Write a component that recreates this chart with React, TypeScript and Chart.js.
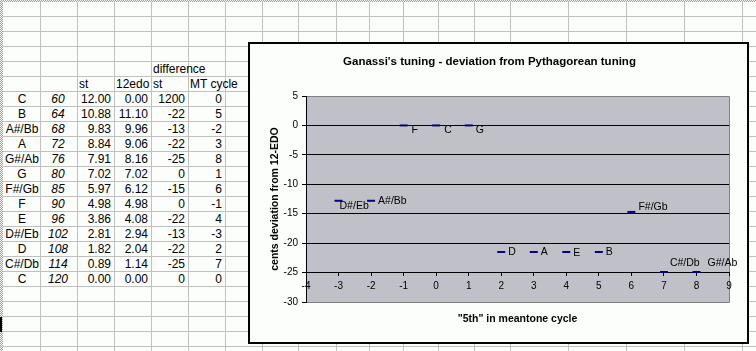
import React, { useEffect, useRef } from "react";
import { Chart, registerables } from "chart.js";

Chart.register(...registerables);

// ---- chart data ----
const noteNames = ["F", "C", "G", "D", "A", "E", "B", "F#/Gb", "C#/Db", "G#/Ab", "D#/Eb", "A#/Bb"];
const fifthsInCycle = [-1, 0, 1, 2, 3, 4, 5, 6, 7, 8, -3, -2];
const centsDeviation = [0, 0, 0, -21.5, -21.5, -21.5, -21.5, -14.7, -24.9, -24.9, -12.8, -12.8];
// label offsets (px) from each marker, right of the marker
const labelDx = [8, 8, 7, 7, 7, 7, 7, 7, 6, 11, 1, 7];
const labelDy = [5, 5, 4.5, 0, 0, 1.5, 0, -4.5, -9, -9, 5.3, 0];

const chartTitle = "Ganassi's tuning - deviation from Pythagorean tuning";
const yTitle = "cents deviation from 12-EDO";
const xTitle = '"5th" in meantone cycle';

// ---- spreadsheet data ----
const sheetNotes = ["C", "B", "A#/Bb", "A", "G#/Ab", "G", "F#/Gb", "F", "E", "D#/Eb", "D", "C#/Db", "C"];
const sheetNum = ["60", "64", "68", "72", "76", "80", "85", "90", "96", "102", "108", "114", "120"];
const sheetSt = ["12.00", "10.88", "9.83", "8.84", "7.91", "7.02", "5.97", "4.98", "3.86", "2.81", "1.82", "0.89", "0.00"];
const sheet12edo = ["0.00", "11.10", "9.96", "9.06", "8.16", "7.02", "6.12", "4.98", "4.08", "2.94", "2.04", "1.14", "0.00"];
const sheetDiff = ["1200", "-22", "-13", "-22", "-25", "0", "-15", "0", "-22", "-13", "-22", "-25", "0"];
const sheetCycle = ["0", "5", "-2", "3", "8", "1", "6", "-1", "4", "-3", "2", "7", "0"];

const colLines = [40, 77, 114, 151, 188, 225, 262, 298, 336, 369, 403, 438, 474, 510, 568, 626, 684, 742];
const FONT = '"Liberation Sans", Arial, sans-serif';

function rowTop(r: number) {
  return 1 + 15 * r;
}

function Cell(props: { x0: number; x1: number; row: number; text: string; align: "left" | "right" | "center"; italic?: boolean }) {
  const { x0, x1, row, text, align, italic } = props;
  const style: React.CSSProperties = {
    position: "absolute",
    left: x0 + 2,
    width: x1 - x0 - 5,
    top: rowTop(row),
    height: 15,
    lineHeight: "16px",
    fontFamily: FONT,
    fontSize: 12,
    fontStyle: italic ? "italic" : "normal",
    textAlign: align,
    whiteSpace: "nowrap",
    color: "#000",
  };
  return <div style={style}>{text}</div>;
}

export default function App() {
  const canvasRef = useRef<HTMLCanvasElement | null>(null);

  useEffect(() => {
    const canvas = canvasRef.current;
    if (!canvas) return;

    const points = fifthsInCycle.map((x, i) => ({ x, y: centsDeviation[i] }));

    const plotBg = {
      id: "plotBg",
      beforeDraw(chart: any) {
        const { ctx, chartArea } = chart;
        const { left, top, right, bottom } = chartArea;
        ctx.save();
        ctx.fillStyle = "#c0c0c8";
        ctx.fillRect(left, top, right - left, bottom - top);
        ctx.strokeStyle = "#808080";
        ctx.lineWidth = 1;
        ctx.beginPath();
        ctx.moveTo(left, top + 0.5);
        ctx.lineTo(right + 0.5, top + 0.5);
        ctx.lineTo(right + 0.5, bottom + 0.5);
        ctx.lineTo(left, bottom + 0.5);
        ctx.stroke();
        ctx.restore();
      },
      afterDraw(chart: any) {
        const { ctx, chartArea } = chart;
        ctx.save();
        ctx.fillStyle = "#000";
        ctx.font = `bold 10.5px ${FONT}`;
        ctx.textAlign = "center";
        ctx.textBaseline = "middle";
        ctx.fillText(xTitle, (chartArea.left + chartArea.right) / 2, chartArea.bottom + 17);
        ctx.restore();
      },
      afterDatasetsDraw(chart: any) {
        const { ctx } = chart;
        const meta = chart.getDatasetMeta(0);
        ctx.save();
        ctx.fillStyle = "#000";
        ctx.font = `10.5px ${FONT}`;
        ctx.textAlign = "left";
        ctx.textBaseline = "middle";
        meta.data.forEach((el: any, i: number) => {
          ctx.fillText(noteNames[i], el.x + labelDx[i], el.y + labelDy[i]);
        });
        ctx.restore();
      },
    };

    const chart = new Chart(canvas, {
      type: "scatter",
      data: {
        datasets: [
          {
            data: points,
            pointStyle: "line",
            pointRadius: 4,
            pointBorderWidth: 2,
            pointBorderColor: "#000080",
            pointBackgroundColor: "#000080",
            showLine: false,
          },
        ],
      },
      options: {
        animation: false,
        responsive: false,
        devicePixelRatio: 1,
        layout: { padding: { left: 0, right: 18, top: 0, bottom: 40 } },
        plugins: {
          legend: { display: false },
          tooltip: { enabled: false },
          title: {
            display: true,
            text: chartTitle,
            color: "#000",
            font: { family: FONT, size: 11.5, weight: "bold" },
            padding: { top: 11.4, bottom: 26.8 },
          },
        },
        scales: {
          x: {
            type: "linear",
            min: -4,
            max: 9,
            position: { y: -25 } as any,
            ticks: {
              stepSize: 1,
              color: "#000",
              font: { family: FONT, size: 10 },
              padding: 5,
              maxRotation: 0,
              autoSkip: false,
            },
            grid: { drawOnChartArea: false, drawTicks: true, tickLength: 3, tickColor: "#000" },
            border: { display: true, color: "#000", width: 1 },
          },
          y: {
            type: "linear",
            min: -30,
            max: 5,
            position: "left",
            afterFit: (s: any) => {
              s.width = 56;
            },
            ticks: {
              stepSize: 5,
              color: "#000",
              font: { family: FONT, size: 10 },
              padding: 4,
            },
            grid: {
              color: (c: any) =>
                c.tick && (c.tick.value === 5 || c.tick.value === -30) ? "rgba(0,0,0,0)" : "#000",
              tickLength: 4,
              tickColor: "#000",
              lineWidth: 1,
            },
            border: { display: true, color: "#000", width: 1 },
            title: {
              display: true,
              text: yTitle,
              color: "#000",
              font: { family: FONT, size: 10.5, weight: "bold" },
              padding: { top: 18.7, bottom: 0 },
            },
          },
        },
      } as any,
      plugins: [plotBg],
    });

    return () => chart.destroy();
  }, []);

  const dotted: React.CSSProperties = {
    position: "absolute",
    backgroundImage: "repeating-conic-gradient(#a8a098 0% 25%, #f4f4f0 0% 50%)",
    backgroundSize: "2px 2px",
  };

  const rows = sheetNotes.map((n, i) => {
    const r = 6 + i;
    return (
      <React.Fragment key={i}>
        <Cell x0={3} x1={42} row={r} text={n} align="center" />
        <Cell x0={40} x1={77} row={r} text={sheetNum[i]} align="center" italic />
        <Cell x0={77} x1={114} row={r} text={sheetSt[i]} align="right" />
        <Cell x0={114} x1={151} row={r} text={sheet12edo[i]} align="right" />
        <Cell x0={151} x1={188} row={r} text={sheetDiff[i]} align="right" />
        <Cell x0={188} x1={225} row={r} text={sheetCycle[i]} align="right" />
      </React.Fragment>
    );
  });

  return (
    <div
      style={{
        position: "fixed",
        left: 0,
        top: 0,
        width: 756,
        height: 351,
        overflow: "hidden",
        background: "#fcfefc",
      }}
    >
      {colLines.map((x, i) => (
        <div key={"c" + i} style={{ position: "absolute", left: x, top: 0, width: 1, height: 351, background: "#c0c0c0" }} />
      ))}
      {Array.from({ length: 23 }, (_, k) => (
        <div key={"r" + k} style={{ position: "absolute", left: 0, top: 16 + 15 * k, width: 756, height: 1, background: "#c0c0c0" }} />
      ))}
      <div style={{ ...dotted, left: 0, top: 0, width: 756, height: 2 }} />
      <div style={{ ...dotted, left: 0, top: 0, width: 3, height: 351 }} />
      <div style={{ position: "absolute", left: 0, top: 317, width: 2, height: 15, background: "#000" }} />

      <div style={{ position: "absolute", left: 151, top: rowTop(4), height: 15, lineHeight: "16px", fontFamily: FONT, fontSize: 12, paddingLeft: 2, whiteSpace: "nowrap" }}>difference</div>
      <Cell x0={77} x1={114} row={5} text="st" align="left" />
      <Cell x0={114} x1={151} row={5} text="12edo" align="left" />
      <Cell x0={151} x1={188} row={5} text="st" align="left" />
      <Cell x0={188} x1={240} row={5} text="MT cycle" align="left" />
      {rows}

      <div
        style={{
          position: "absolute",
          left: 248,
          top: 42,
          width: 501,
          height: 302,
          boxSizing: "border-box",
          border: "2px solid #000",
          background: "#fcfefc",
        }}
      >
        <canvas ref={canvasRef} width={497} height={298} style={{ position: "absolute", left: 0, top: 0, width: 497, height: 298 }} />
      </div>
    </div>
  );
}
